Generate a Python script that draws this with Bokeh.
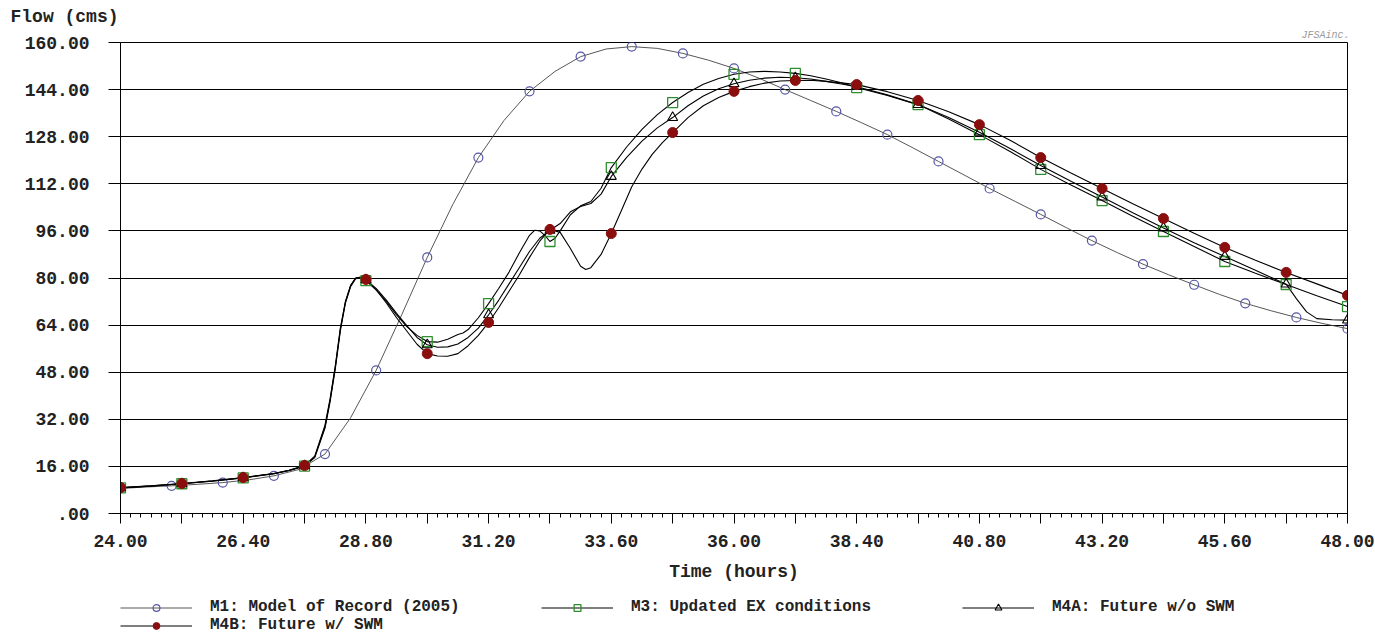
from bokeh.plotting import figure
from bokeh.layouts import column
from bokeh.models import Range1d, FixedTicker, Title, Legend, LegendItem, PrintfTickFormatter
from bokeh.embed import file_html
from bokeh.resources import INLINE

# ---------------- data ----------------
m1_t = [24.0, 24.5, 25.0, 25.5, 26.0, 26.5, 27.0, 27.5, 28.0, 28.5, 29.0, 29.5, 30.0, 30.5,
        31.0, 31.5, 32.0, 32.5, 33.0, 33.5, 34.0, 34.5, 35.0, 35.5, 36.0, 36.5, 37.0, 37.5,
        38.0, 38.5, 39.0, 39.5, 40.0, 40.5, 41.0, 41.5, 42.0, 42.5, 43.0, 43.5, 44.0, 44.5,
        45.0, 45.5, 46.0, 46.5, 47.0, 47.5, 48.0]
m1_v = [8.5, 9.0, 9.4, 9.9, 10.5, 11.4, 12.8, 15.0, 20.2, 32.5, 48.6, 67.5, 87.0, 105.0,
        120.9, 133.5, 143.4, 150.2, 155.2, 157.8, 158.6, 158.0, 156.3, 154.0, 151.2, 147.8, 144.0, 140.3,
        136.6, 132.7, 128.7, 124.2, 119.6, 115.0, 110.4, 106.0, 101.6, 97.1, 92.7, 88.6, 84.7, 81.1,
        77.7, 74.4, 71.4, 68.9, 66.6, 64.6, 62.8]

m3_t = [24.0, 24.6, 25.2, 25.8, 26.4, 27.0, 27.3, 27.6, 27.8, 28.0, 28.1, 28.2, 28.3, 28.4, 28.5,
        28.6, 28.7, 28.8, 29.0, 29.2, 29.4, 29.6, 29.8, 30.0, 30.2, 30.4, 30.6, 30.7, 30.8, 31.0,
        31.2, 31.4, 31.6, 31.8, 32.0, 32.1, 32.2, 32.3, 32.4, 32.5, 32.6, 32.8, 33.0, 33.2, 33.4,
        33.6, 33.9, 34.2, 34.5, 34.8, 35.1, 35.4, 35.7, 36.0, 36.3, 36.6, 36.9, 37.2, 37.5, 37.8,
        38.1, 38.4, 39.0, 39.6, 40.2, 40.8, 41.4, 42.0, 42.6, 43.2, 43.8, 44.4, 45.0, 45.6, 46.2,
        46.8, 47.4, 48.0]
m3_v = [8.7, 9.3, 10.1, 11.0, 12.1, 13.5, 14.6, 16.1, 19.0, 29.0, 38.0, 49.0, 62.0, 71.5, 77.0,
        79.8, 80.0, 79.1, 76.0, 72.0, 67.5, 63.5, 60.5, 58.4, 58.2, 59.2, 60.8, 61.3, 62.5, 66.5,
        71.3, 76.5, 82.0, 88.5, 94.5, 96.2, 96.0, 94.5, 92.4, 93.5, 96.0, 101.5, 104.5, 106.0, 110.5,
        117.5, 124.5, 130.5, 135.5, 139.6, 143.0, 145.8, 147.8, 149.2, 150.0, 150.2, 150.0, 149.5, 148.7, 147.6,
        146.3, 144.7, 142.0, 138.9, 134.0, 128.7, 123.0, 116.9, 111.5, 106.3, 101.0, 95.8, 90.7, 85.6, 81.6,
        77.8, 74.0, 70.3]

m4a_t = [24.0, 24.6, 25.2, 25.8, 26.4, 27.0, 27.3, 27.6, 27.8, 28.0, 28.1, 28.2, 28.3, 28.4, 28.5,
         28.6, 28.7, 28.8, 29.0, 29.2, 29.4, 29.6, 29.8, 30.0, 30.2, 30.4, 30.6, 30.8, 31.0,
         31.2, 31.4, 31.6, 31.8, 32.0, 32.2, 32.4, 32.6, 32.8, 33.0, 33.2, 33.4,
         33.6, 33.9, 34.2, 34.5, 34.8, 35.1, 35.4, 35.7, 36.0, 36.3, 36.6, 36.9, 37.2, 37.5, 37.8,
         38.1, 38.4, 39.0, 39.6, 40.2, 40.8, 41.4, 42.0, 42.6, 43.2, 43.8, 44.4, 45.0, 45.6, 46.2,
         46.8, 47.0, 47.2, 47.4, 47.7, 48.0]
m4a_v = [8.7, 9.4, 10.1, 11.05, 12.15, 13.55, 14.65, 16.2, 19.3, 29.5, 38.5, 49.5, 62.5, 72.0, 77.3,
         80.0, 80.2, 79.4, 76.5, 72.5, 68.0, 63.8, 59.8, 57.3, 56.5, 56.6, 57.6, 59.8, 63.0,
         67.5, 72.5, 78.0, 83.5, 89.0, 93.5, 96.2, 98.5, 102.5, 104.3, 105.3, 108.5,
         114.5, 121.0, 126.5, 131.0, 134.5, 138.5, 141.8, 144.3, 146.0, 147.2, 147.9, 148.2, 148.0, 147.6, 146.8,
         145.9, 145.0, 142.2, 138.9, 134.5, 129.5, 124.0, 118.2, 112.8, 107.5, 102.2, 97.0, 92.0, 87.3, 82.6,
         77.9, 73.0, 68.5, 66.2, 65.8, 65.7]

m4b_t = [24.0, 24.6, 25.2, 25.8, 26.4, 27.0, 27.3, 27.6, 27.8, 28.0, 28.1, 28.2, 28.3, 28.4, 28.5,
         28.6, 28.7, 28.8, 29.0, 29.2, 29.4, 29.6, 29.8, 30.0, 30.2, 30.4, 30.6, 30.8, 31.0,
         31.2, 31.4, 31.6, 31.8, 32.0, 32.2, 32.4, 32.6, 32.8, 33.0, 33.1, 33.2, 33.4,
         33.6, 33.8, 34.0, 34.2, 34.4, 34.6, 34.8, 35.1, 35.4, 35.7, 36.0, 36.3, 36.6, 36.9, 37.2, 37.5, 37.8,
         38.1, 38.4, 39.0, 39.6, 40.2, 40.8, 41.4, 42.0, 42.6, 43.2, 43.8, 44.4, 45.0, 45.6, 46.2,
         46.8, 47.4, 48.0]
m4b_v = [8.8, 9.4, 10.2, 11.1, 12.2, 13.6, 14.7, 16.3, 19.5, 30.0, 39.0, 50.0, 63.0, 72.0, 77.5,
         80.0, 80.3, 79.5, 76.0, 71.5, 66.5, 62.0, 57.5, 54.3, 53.5, 53.4, 54.3, 57.0, 60.5,
         64.9, 70.0, 75.5, 81.0, 87.0, 92.5, 96.5, 95.5, 90.0, 84.0, 82.9, 83.5, 88.0,
         95.1, 103.0, 111.0, 117.0, 122.0, 126.0, 129.4, 134.5, 138.5, 141.3, 143.4, 145.0, 146.2, 146.9, 147.1, 147.2, 146.8,
         146.3, 145.7, 143.3, 140.3, 136.5, 132.1, 126.8, 120.9, 115.6, 110.4, 105.2, 100.2, 95.2, 90.4, 86.0,
         81.9, 78.0, 74.1]

labels = ["M1: Model of Record (2005)", "M3: Updated EX conditions",
          "M4A: Future w/o SWM", "M4B: Future w/ SWM"]

x_label_ticks = [24.0, 26.4, 28.8, 31.2, 33.6, 36.0, 38.4, 40.8, 43.2, 45.6, 48.0]
x_mid_ticks = [25.2, 27.6, 30.0, 32.4, 34.8, 37.2, 39.6, 42.0, 44.4, 46.8]
y_ticks = [0, 16, 32, 48, 64, 80, 96, 112, 128, 144, 160]


def every(ts, vs, step):
    xs, ys = [], []
    for t, v in zip(ts, vs):
        k = (t - 24.0) / step
        if abs(k - round(k)) < 1e-6:
            xs.append(t)
            ys.append(v)
    return xs, ys


FONT = "Liberation Mono"
TXT = "#222222"

# styles
M1_LINE = dict(line_color="#444444", line_width=0.9)
SER_LINE = dict(line_color="black", line_width=1.1)
M1_MK = dict(marker="circle", size=9, fill_color=None, line_color="#5656a8", line_width=1.2)
M3_MK = dict(marker="square", size=10, fill_color=None, line_color="#2f8f2f", line_width=1.3)
M4A_MK = dict(marker="triangle", size=10, fill_color=None, line_color="black", line_width=1.1)
M4B_MK = dict(marker="circle", size=10, fill_color="#8b0e0e", line_color="#8b0e0e")

p = figure(width=1375, height=590, output_backend="svg", toolbar_location=None,
           x_range=Range1d(24, 48), y_range=Range1d(0, 160),
           min_border_left=120, min_border_right=28, min_border_top=42, min_border_bottom=77)
p.background_fill_color = "white"
p.border_fill_color = "white"
p.outline_line_color = "black"
p.outline_line_width = 1

p.xgrid.visible = False
p.ygrid.grid_line_color = "black"
p.ygrid.grid_line_width = 1
p.ygrid.ticker = FixedTicker(ticks=y_ticks)

# x axis
xt = sorted(x_label_ticks + x_mid_ticks)
p.xaxis.ticker = FixedTicker(ticks=xt, minor_ticks=[round(24 + 0.2 * i, 1) for i in range(121)])
p.xaxis.formatter = PrintfTickFormatter(format="%.2f")
p.xaxis.major_label_overrides = {t: "" for t in x_mid_ticks}
p.xaxis.major_tick_in = 0
p.xaxis.major_tick_out = 10
p.xaxis.minor_tick_in = 0
p.xaxis.minor_tick_out = 4
p.xaxis.axis_line_color = "black"
p.xaxis.major_tick_line_color = "black"
p.xaxis.minor_tick_line_color = "black"
p.xaxis.major_label_standoff = 11
p.xaxis.axis_label = "Time (hours)"
p.xaxis.axis_label_standoff = 12

# y axis
p.yaxis.ticker = FixedTicker(ticks=y_ticks, minor_ticks=[])
p.yaxis.formatter = PrintfTickFormatter(format="%.2f")
p.yaxis.major_label_overrides = {0: ".00"}
p.yaxis.major_tick_in = 0
p.yaxis.major_tick_out = 12
p.yaxis.axis_line_color = "black"
p.yaxis.major_tick_line_color = "black"
p.yaxis.major_label_standoff = 19

for ax in (p.xaxis, p.yaxis):
    ax.major_label_text_font = FONT
    ax.major_label_text_font_size = "18px"
    ax.major_label_text_font_style = "bold"
    ax.major_label_text_color = TXT
    ax.axis_label_text_font = FONT
    ax.axis_label_text_font_size = "18px"
    ax.axis_label_text_font_style = "bold"
    ax.axis_label_text_color = TXT

# series
p.line(m1_t, m1_v, **M1_LINE)
mx, my = every(m1_t, m1_v, 1.0)
p.scatter(mx, my, **M1_MK)

p.line(m3_t, m3_v, **SER_LINE)
p.line(m4a_t, m4a_v, **SER_LINE)
p.line(m4b_t, m4b_v, **SER_LINE)

mx, my = every(m3_t, m3_v, 1.2)
p.scatter(mx, my, **M3_MK)
mx, my = every(m4a_t, m4a_v, 1.2)
p.scatter(mx, my, **M4A_MK)
mx, my = every(m4b_t, m4b_v, 1.2)
p.scatter(mx, my, **M4B_MK)

p.add_layout(Title(text="JFSAinc.", align="right", text_font=FONT,
                   text_font_size="10px", text_font_style="italic", text_color="#999999",
                   standoff=3, offset=-2), "above")
p.add_layout(Title(text="Flow (cms)", align="left", offset=-110, text_font=FONT,
                   text_font_size="18px", text_font_style="bold", text_color=TXT,
                   standoff=0), "above")

# ---------------- legend strip ----------------
# the swatch renderers hold a single point outside the strip's ranges, so only the legend shows them
q = figure(width=1375, height=44, output_backend="svg", toolbar_location=None,
           x_axis_type=None, y_axis_type=None,
           x_range=Range1d(0, 1), y_range=Range1d(0, 1),
           min_border_left=120, min_border_right=0, min_border_top=8, min_border_bottom=0)
q.outline_line_color = None
q.grid.visible = False
q.background_fill_color = "white"
q.border_fill_color = "white"

off = [50.0]
l1 = q.line(off, off, **M1_LINE)
k1 = q.scatter(off, off, **M1_MK)
l3 = q.line(off, off, **SER_LINE)
k3 = q.scatter(off, off, **M3_MK)
l4a = q.line(off, off, **SER_LINE)
k4a = q.scatter(off, off, **M4A_MK)
l4b = q.line(off, off, **SER_LINE)
k4b = q.scatter(off, off, **M4B_MK)

legend = Legend(items=[LegendItem(label=labels[0], renderers=[l1, k1]),
                       LegendItem(label=labels[1], renderers=[l3, k3]),
                       LegendItem(label=labels[2], renderers=[l4a, k4a]),
                       LegendItem(label=labels[3], renderers=[l4b, k4b])],
                orientation="horizontal", ncols=3, location="top_left",
                glyph_width=72, glyph_height=17, label_height=17, label_standoff=18,
                label_width=331, spacing=0, padding=0, margin=0,
                border_line_color=None, background_fill_alpha=0,
                label_text_font=FONT, label_text_font_size="16px",
                label_text_font_style="bold", label_text_color=TXT)
q.add_layout(legend, "center")

layout = column(p, q, spacing=0)
open("out.html", "w").write(file_html(layout, INLINE))
